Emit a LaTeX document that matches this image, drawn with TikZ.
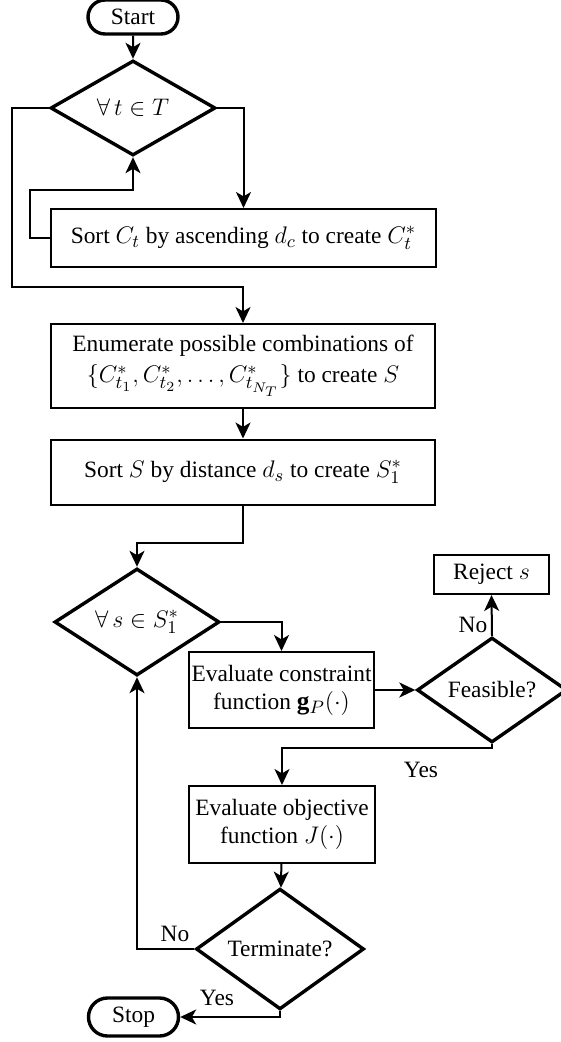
\documentclass[tikz,border=0pt]{standalone}
\usepackage{fontspec}
\setmainfont{Liberation Serif}
\DeclareMathSizes{11.7}{12.6}{9.2}{7}
\usetikzlibrary{shapes.geometric,shapes.misc,arrows.meta}
\begin{document}
\begin{tikzpicture}[x=0.5pt,y=-0.5pt,
  font=\fontsize{11.7}{14}\selectfont,
  proc/.style={draw, line width=1pt, rectangle, inner sep=0pt, align=center},
  decision/.style={draw, line width=1.7pt, diamond, inner sep=0pt},
  terminal/.style={draw, line width=1.7pt, rounded rectangle, inner sep=0pt},
  flow/.style={line width=1pt, -{Stealth[length=8pt,width=7.5pt,inset=2.2pt]}},
  lbl/.style={inner sep=0pt}
]
\useasboundingbox (0,0) rectangle (561,1042);
\clip (0,0) rectangle (561,1042);

% nodes
\node[terminal, minimum width=45pt, minimum height=17pt] (start) at (133,17) {Start};
\node[decision, minimum width=82.5pt, minimum height=47.5pt] (d1) at (133,108) {$\forall\, t \in T$};
\node[proc, minimum width=192.5pt, minimum height=29pt] (sortC) at (243.5,238)
  {Sort $C_t$ by ascending $d_c$ to create $C_t^*$};
\node[proc, minimum width=192pt, minimum height=42pt] (enum) at (243,366)
  {Enumerate possible combinations of\\[1.5pt] $\{C_{t_1}^*, C_{t_2}^*, \ldots, C_{t_{N_T}}^*\}$ to create $S$};
\node[proc, minimum width=192pt, minimum height=32.5pt] (sortS) at (243,472)
  {Sort $S$ by distance $d_s$ to create $S_1^*$};
\node[decision, minimum width=82.5pt, minimum height=47.5pt] (d2) at (137,622) {$\forall\, s \in S_1^*$};
\node[proc, minimum width=92.5pt, minimum height=38pt] (evc) at (281.5,690)
  {Evaluate constraint\\ function $\mathbf{g}_P(\cdot)$};
\node[decision, minimum width=75pt, minimum height=43pt] (feas) at (492,690) {Feasible?};
\node[proc, minimum width=57.5pt, minimum height=19.5pt] (rej) at (491.5,574.5) {Reject $s$};
\node[proc, minimum width=93pt, minimum height=38.5pt] (evo) at (282,824.5)
  {Evaluate objective\\ function $J(\cdot)$};
\node[decision, minimum width=84pt, minimum height=48pt] (term) at (280,949) {Terminate?};
\node[terminal, minimum width=45pt, minimum height=19pt] (stop) at (133.5,1017) {Stop};

% routing points
\coordinate (loopC) at (30,190);
\coordinate (skipT) at (12,287);
\coordinate (bendS) at (243,543);
\coordinate (bendF) at (492,748);

% connectors
\draw[flow] (start) -- (d1);
\draw[flow] (d1.east) -| (sortC.north);
\draw[flow] (sortC.west) -| (loopC) -| (d1.south);
\draw[flow] (d1.west) -| (skipT) -| (enum.north);
\draw[flow] (enum) -- (sortS);
\draw[flow] (sortS.south) -- (bendS) -| (d2.north);
\draw[flow] (d2.east) -| (evc.north);
\draw[flow] (evc.east) -- (feas.west);
\draw[flow] (feas.north) -- (rej.south);
\draw[flow] (feas.south) -- (bendF) -| (evo.north);
\draw[flow] (evo) -- (term);
\draw[flow] (term.west) -| (d2.south);
\draw[flow] (term.south) |- (stop.east);

% branch labels
\node[lbl] (noF) at (473,625) {No};
\node[lbl] (yesF) at (421,770) {Yes};
\node[lbl] (noT) at (175,934) {No};
\node[lbl] (yesT) at (217,998) {Yes};
\end{tikzpicture}
\end{document}
